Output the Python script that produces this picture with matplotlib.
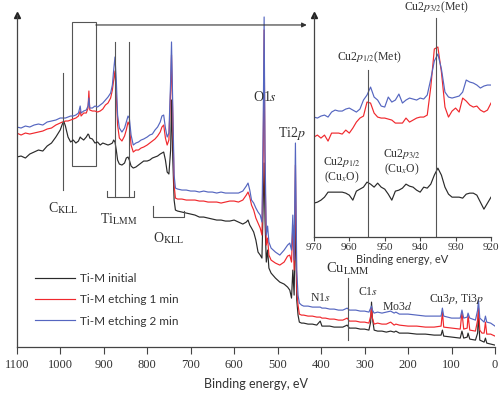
import numpy as np
import matplotlib
matplotlib.use("Agg")
import matplotlib.pyplot as plt
from matplotlib.patches import Rectangle

plt.rcParams['font.family'] = ['Liberation Serif', 'DejaVu Serif']
plt.rcParams['mathtext.fontset'] = 'stix'

# ---- survey spectrum (binding energy, eV) and intensities (a.u.) ----
energy_ev = [
    1100, 1090, 1080, 1070, 1060, 1050, 1040, 1030, 1020, 1010, 1000,
    995, 992, 988, 982, 976, 970, 964, 958, 954, 952, 946, 940, 936,
    934, 932, 926, 920, 914, 908, 902, 896, 890, 884,
    880, 877, 874, 871, 868, 864, 858, 852, 848, 844, 841,
    837, 832, 826, 820, 814, 808, 800, 794, 788, 782, 776, 770, 766, 762, 758, 754, 750,
    746, 744, 741, 738, 735, 730, 720, 710, 700,
    690, 680, 670, 660, 650, 640, 630, 620, 610, 600, 590, 580, 572, 568, 564, 560, 555, 550, 545, 540, 536,
    533, 531, 529, 526, 523, 520, 515, 505, 495, 485, 477, 472, 468, 465, 462, 459, 456, 453, 450,
    445, 440, 430, 420, 410, 402, 398, 390, 380, 370, 360, 350, 340, 335, 320, 310, 300, 290, 286, 284, 282, 278,
    270, 260, 250, 240, 232, 228, 220, 200, 180, 160, 140, 124, 121, 118, 100, 80, 76, 72, 64, 62, 58, 45, 40, 38,
    35, 30, 25, 22, 19, 10, 0,
]
initial = [
    190, 191, 189, 193, 195, 197, 196, 201, 204, 210, 217,
    223, 226, 221, 210, 205, 207, 204, 206, 210, 209, 207, 210, 213,
    212, 209, 208, 204, 205, 202, 204, 203, 202, 203,
    204, 207, 205, 197, 187, 183, 182, 184, 189, 190, 187,
    181, 179, 180, 182, 184, 186, 186, 187, 189, 190, 191, 193, 194, 195, 187, 175, 173,
    197, 247, 187, 147, 137, 136, 135, 134, 133,
    132, 130, 130, 129, 128, 127, 127, 126, 126, 127, 125, 123, 125, 127, 122, 119, 115, 107, 95, 92, 89,
    147, 184, 127, 85, 97, 79, 74, 69, 65, 63, 60, 57, 49, 77, 52, 132, 47, 32, 25,
    24, 24, 23, 23, 22, 26, 21, 21, 21, 20, 20, 20, 22, 19, 19, 18, 18, 17, 25, 45, 29, 17,
    16, 16, 15, 16, 15, 16, 14, 14, 13, 13, 12, 12, 17, 11, 10, 9, 16, 9, 10, 14, 8, 7, 14, 34,
    7, 6, 5, 9, 4, 3, 2,
]
etch_1min = [
    214, 212, 214, 213, 214, 215, 216, 218, 219, 222, 224,
    225, 225, 226, 226, 227, 228, 229, 231, 236, 231, 234, 234, 239,
    256, 237, 236, 236, 235, 236, 238, 242, 244, 249,
    257, 267, 276, 252, 222, 209, 206, 211, 217, 225, 222,
    202, 195, 197, 197, 199, 200, 202, 204, 206, 208, 211, 215, 220, 222, 209, 202, 207,
    257, 292, 227, 162, 149, 148, 148, 147, 147,
    147, 146, 146, 145, 145, 145, 144, 145, 146, 146, 145, 147, 152, 155, 150, 142, 137, 129, 124, 119, 112,
    197, 317, 177, 102, 109, 92, 87, 84, 82, 85, 91, 92, 85, 122, 77, 182, 57, 42, 33,
    32, 32, 31, 31, 30, 30, 29, 29, 28, 28, 27, 27, 29, 26, 26, 25, 25, 24, 31, 39, 29, 23,
    24, 23, 23, 25, 22, 23, 22, 21, 21, 20, 20, 21, 35, 20, 19, 18, 35, 18, 19, 32, 17, 16, 27, 39,
    17, 14, 14, 25, 13, 13, 11,
]
etch_2min = [
    220, 219, 221, 220, 222, 223, 222, 225, 226, 227, 229,
    229, 229, 229, 230, 231, 231, 232, 234, 241, 234, 236, 237, 241,
    249, 239, 239, 241, 240, 242, 244, 247, 250, 254,
    262, 277, 290, 267, 232, 219, 215, 219, 225, 231, 229,
    212, 202, 204, 205, 207, 208, 210, 212, 213, 217, 220, 225, 231, 232, 219, 210, 214,
    267, 305, 237, 172, 159, 158, 157, 157, 156,
    156, 155, 156, 155, 155, 154, 155, 154, 154, 154, 154, 156, 161, 164, 157, 147, 144, 139, 135, 132, 125,
    227, 330, 197, 112, 121, 105, 99, 95, 92, 97, 102, 104, 97, 132, 87, 204, 77, 52, 44,
    42, 41, 41, 40, 40, 40, 39, 39, 38, 38, 37, 37, 39, 37, 37, 36, 36, 35, 39, 41, 37, 34,
    35, 34, 35, 36, 34, 35, 33, 33, 32, 31, 31, 31, 39, 31, 29, 29, 37, 29, 30, 34, 29, 27, 37, 47,
    29, 27, 25, 31, 25, 24, 21,
]

# ---- Cu2p region (inset) ----
cu_energy = list(range(970, 919, -1))
cu_initial = [
    34, 35, 37, 40, 45, 45, 45, 45, 45, 44, 42, 37, 46, 48, 50, 55, 53, 50, 54, 50, 48,
    43, 37, 46, 47, 49, 53, 51, 50, 47, 45, 50, 49, 53, 62, 69, 62, 50, 43, 40, 40,
    40, 39, 43, 44, 44, 42, 35, 28, 34, 40,
]
cu_etch_1min = [
    100, 102, 99, 102, 96, 104, 104, 104, 103, 107, 104, 109, 115, 119, 121, 135, 134, 124, 120, 119, 119,
    118, 117, 114, 114, 114, 119, 115, 117, 119, 120, 120, 122, 150, 188, 190, 165, 130, 120, 126, 129,
    125, 139, 136, 132, 130, 131, 127, 125, 127, 134,
]
cu_etch_2min = [
    120, 119, 121, 122, 120, 125, 127, 126, 126, 128, 129, 127, 125, 128, 137, 142, 150, 140, 137, 131, 130,
    140, 135, 137, 143, 134, 137, 139, 138, 137, 139, 138, 142, 158, 176, 183, 168, 145, 140, 139, 140,
    141, 145, 157, 155, 154, 152, 149, 151, 152, 152,
]

series_labels = ["Ti-M initial", "Ti-M etching 1 min", "Ti-M etching 2 min"]
series_colors = ["#2a2a2a", "#f0282d", "#5566c0"]

TEXT = "#333333"
GUIDE = "#555555"
SANS = "Lato"


def style_axes(ax, ticklen, pad, size):
    for side in ("top", "right"):
        ax.spines[side].set_visible(False)
    for side in ("left", "bottom"):
        ax.spines[side].set_color("#444444")
        ax.spines[side].set_linewidth(0.9)
    ax.set_yticks([])
    ax.tick_params(axis="x", direction="out", length=ticklen, width=0.8,
                   colors="#444444", labelcolor=TEXT, labelsize=size, pad=pad)
    ax.plot([0], [1], marker="^", color="#222222", markersize=4,
            transform=ax.transAxes, clip_on=False)


fig = plt.figure(figsize=(4.99, 3.94), dpi=100)

# main survey
ax = fig.add_axes([0.0335, 0.119, 0.9585, 0.843])
series = [initial, etch_1min, etch_2min]
for vals, lab, col in zip(series, series_labels, series_colors):
    ax.plot(energy_ev, vals, color=col, lw=0.85, label=lab)
ax.set_xlim(1100, 0)
ax.set_ylim(0, 332)
ax.set_xticks(range(1100, -1, -100))
style_axes(ax, 5, 3.5, 9)
ax.set_xlabel("Binding energy, eV", fontsize=9, family=SANS, color=TEXT, labelpad=5)

# peak guides
ax.plot([993, 993], [157, 274], color=GUIDE, lw=0.8)
ax.text(993, 139, r"C$_{\mathrm{KLL}}$", ha="center", va="center", fontsize=10, color=TEXT)
for e in (874, 842):
    ax.plot([e, e], [150, 305], color=GUIDE, lw=0.8)
ax.plot([892, 892, 830, 830], [156, 150, 150, 156], color=GUIDE, lw=0.8)
ax.text(865, 128, r"Ti$_{\mathrm{LMM}}$", ha="center", va="center", fontsize=10, color=TEXT)
ax.plot([787, 787, 715, 715], [141, 130, 130, 136], color=GUIDE, lw=0.8)
ax.text(752, 109, r"O$_{\mathrm{KLL}}$", ha="center", va="center", fontsize=10, color=TEXT)
ax.plot([338, 338], [7, 69], color=GUIDE, lw=0.8)
ax.text(338, 78, r"Cu$_{\mathrm{LMM}}$", ha="center", va="center", fontsize=10.5, color=TEXT)

ax.text(529, 250, r"O1$s$", ha="center", va="center", fontsize=10, color=TEXT)
ax.text(466, 214, r"Ti2$p$", ha="center", va="center", fontsize=10, color=TEXT)
ax.text(402, 49, r"N1$s$", ha="center", va="center", fontsize=8.5, color=TEXT)
ax.text(293, 55, r"C1$s$", ha="center", va="center", fontsize=8.5, color=TEXT)
ax.text(225, 40, r"Mo3$d$", ha="center", va="center", fontsize=8.5, color=TEXT)
ax.text(88, 48, r"Cu3$p$, Ti3$p$", ha="center", va="center", fontsize=8.5, color=TEXT)

# zoom box and arrow to inset
ax.add_patch(Rectangle((973, 181), -55, 144, fill=False, edgecolor=GUIDE, lw=0.8))
ax.annotate("", xy=(433, 322), xytext=(918, 322),
            arrowprops=dict(arrowstyle="-|>", color="#333333", lw=0.8,
                            mutation_scale=7, shrinkA=0, shrinkB=0))

leg = ax.legend(loc="upper left", bbox_to_anchor=(0.058, 0.322),
                bbox_transform=fig.transFigure, frameon=False, borderpad=0,
                handlelength=3.4, handletextpad=0.45, labelspacing=0.87,
                prop={"family": SANS, "size": 8.5})
for t in leg.get_texts():
    t.set_color(TEXT)

# inset: Cu2p
ins = fig.add_axes([0.629, 0.398, 0.355, 0.564])
ins.patch.set_alpha(0)
cu_series = [cu_initial, cu_etch_1min, cu_etch_2min]
for vals, col in zip(cu_series, series_colors):
    ins.plot(cu_energy, vals, color=col, lw=0.85)
ins.set_xlim(970, 920)
ins.set_ylim(0, 222)
ins.set_xticks(range(970, 919, -10))
style_axes(ins, 3, 1.5, 8)
ins.set_xlabel("Binding energy, eV", fontsize=8, family=SANS, color=TEXT, labelpad=1)

ins.plot([954.6, 954.6], [0, 167], color=GUIDE, lw=0.8)
ins.plot([935.4, 935.4], [0, 219], color=GUIDE, lw=0.8)
ins.text(935.4, 230, r"Cu2$p_{3/2}$(Met)", ha="center", va="center", fontsize=8.5,
         color=TEXT, clip_on=False)
ins.text(954.4, 180, r"Cu2$p_{1/2}$(Met)", ha="center", va="center", fontsize=8.5, color=TEXT)
ins.text(962.2, 67, "Cu2$p_{1/2}$\n(Cu$_x$O)", ha="center", va="center", fontsize=8.5,
         color=TEXT, linespacing=1.1)
ins.text(945.1, 75, "Cu2$p_{3/2}$\n(Cu$_x$O)", ha="center", va="center", fontsize=8.5,
         color=TEXT, linespacing=1.1)

fig.savefig("out.png", dpi=100)
